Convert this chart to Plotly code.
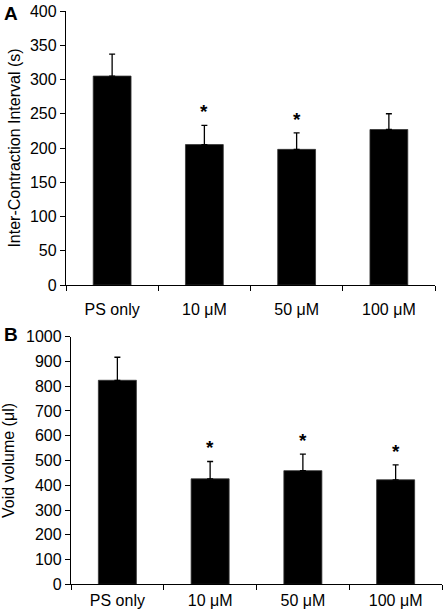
import plotly.graph_objects as go

categories = ["PS only", "10 μM", "50 μM", "100 μM"]

ici_mean = [305, 205, 198, 227]
ici_err = [32, 28, 24, 23]
ici_sig = [False, True, True, False]

void_mean = [824, 426, 459, 422]
void_err = [93, 70, 67, 60]
void_sig = [False, True, True, True]

W, H = 444, 611
FONT = "Liberation Sans, Arial, Helvetica, sans-serif"
FS = 16

fig = go.Figure()

def add_panel(means, errs, xa, ya):
    fig.add_trace(go.Bar(
        x=categories, y=means, xaxis=xa, yaxis=ya, width=0.41,
        marker=dict(color="black", line=dict(color="#333333", width=0.8)),
        error_y=dict(type="data", symmetric=False, array=errs,
                     arrayminus=[0] * len(errs), color="black",
                     thickness=1.3, width=3),
        showlegend=False, hoverinfo="skip"))

add_panel(ici_mean, ici_err, "x", "y")
add_panel(void_mean, void_err, "x2", "y2")

def px_x(x):
    return x / W

def px_y(y):
    return 1 - y / H

xcommon = dict(type="category", showline=True, linecolor="black", linewidth=1.3,
               ticks="outside", tickson="boundaries", ticklen=5, tickwidth=1.2,
               tickcolor="black", showgrid=False, zeroline=False, automargin=False,
               tickfont=dict(family=FONT, size=FS, color="black"),
               range=[-0.5, 3.5], fixedrange=True)
ycommon = dict(showline=True, linecolor="black", linewidth=1.3, ticks="outside",
               ticklen=5, tickwidth=1.2, tickcolor="black", showgrid=False,
               zeroline=False, automargin=False, fixedrange=True,
               tickfont=dict(family=FONT, size=FS, color="black"))

fig.update_layout(
    width=W, height=H, margin=dict(l=0, r=0, t=0, b=0),
    paper_bgcolor="white", plot_bgcolor="white",
    font=dict(family=FONT, color="black"),
    xaxis=dict(domain=[px_x(66), px_x(435)], anchor="y", ticklabelstandoff=10, **xcommon),
    yaxis=dict(domain=[px_y(285), px_y(11)], anchor="x", range=[0, 400], dtick=50,
               title=dict(text="Inter-Contraction Interval (s)",
                          font=dict(family=FONT, size=FS, color="black"), standoff=5),
               **ycommon),
    xaxis2=dict(domain=[px_x(71), px_x(442)], anchor="y2", ticklabelstandoff=1, **xcommon),
    yaxis2=dict(domain=[px_y(584.3), px_y(336.7)], anchor="x2", range=[0, 1000], dtick=100,
                title=dict(text="Void volume (μl)",
                           font=dict(family=FONT, size=FS, color="black"), standoff=8),
                **ycommon),
)

def add_stars(means, errs, sig, xr, yr):
    for c, m, e, s in zip(categories, means, errs, sig):
        if s:
            fig.add_annotation(x=c, y=m + e, xref=xr, yref=yr, text="<b>*</b>",
                               showarrow=False, yanchor="bottom", yshift=1,
                               font=dict(family=FONT, size=19, color="black"))

add_stars(ici_mean, ici_err, ici_sig, "x", "y")
add_stars(void_mean, void_err, void_sig, "x2", "y2")

fig.add_annotation(x=px_x(2), y=px_y(1), xref="paper", yref="paper", text="<b>A</b>",
                   showarrow=False, xanchor="left", yanchor="top",
                   font=dict(family=FONT, size=19, color="black"))
fig.add_annotation(x=px_x(2), y=px_y(322), xref="paper", yref="paper", text="<b>B</b>",
                   showarrow=False, xanchor="left", yanchor="top",
                   font=dict(family=FONT, size=19, color="black"))

fig.write_html("out.html", config={"displayModeBar": False},
               post_script="document.body.style.margin='0';")
